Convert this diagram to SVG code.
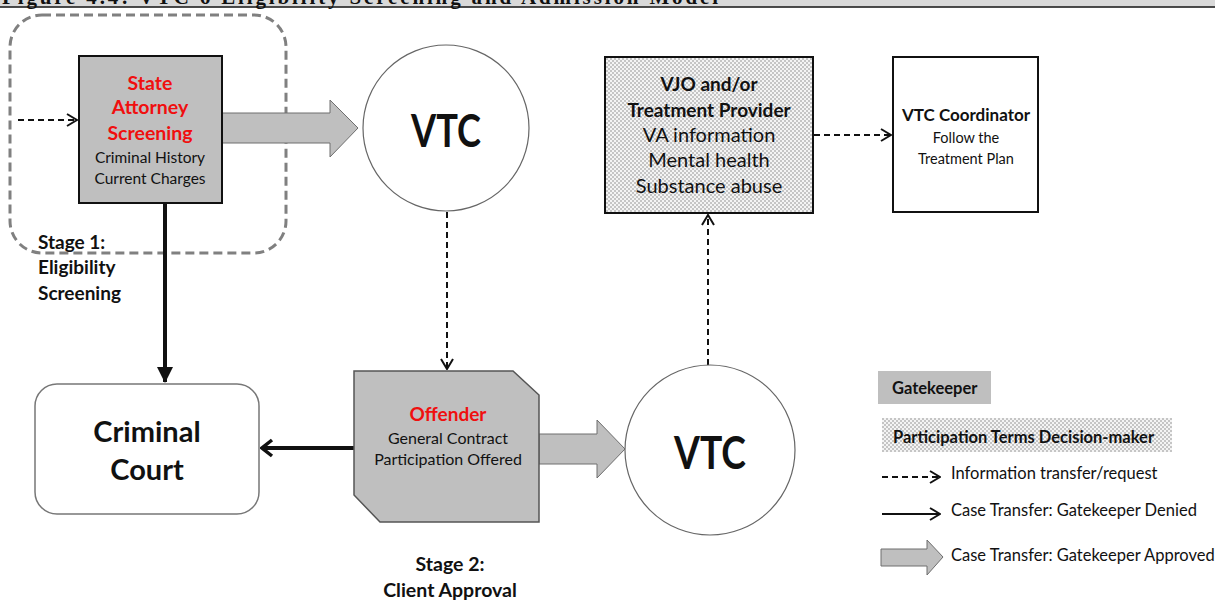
<svg xmlns="http://www.w3.org/2000/svg" width="1215" height="600" viewBox="0 0 1215 600">
  <style>
    .t { font-family: Lato, "Open Sans", sans-serif; text-anchor: middle; dominant-baseline: central; fill: #111; }
    .s { text-anchor: start; }
    .b { font-weight: bold; }
    .red { fill: #f00f0f; }
    .lg { font-family: Lato, "Open Sans", sans-serif; dominant-baseline: central; fill: #111; font-size: 16.5px; }
    .info { fill: none; stroke: #111; stroke-width: 2; stroke-dasharray: 6 4; }
    .gate { fill: #bfbfbf; }
    .block { fill: #bfbfbf; stroke: #6e6e6e; stroke-width: 1; }
  </style>
  <defs>
    <pattern id="dots" width="4" height="4" patternUnits="userSpaceOnUse">
      <rect width="4" height="4" fill="#f4f4f4"/>
      <circle cx="1" cy="1" r="0.8" fill="#8a8a8a"/>
      <circle cx="3" cy="3" r="0.8" fill="#8a8a8a"/>
    </pattern>
    <marker id="open" viewBox="0 0 12 14" refX="11" refY="7" markerWidth="12" markerHeight="14" markerUnits="userSpaceOnUse" orient="auto">
      <path d="M1,1 L11,7 L1,13" fill="none" stroke="#111" stroke-width="2"/>
    </marker>
    <marker id="openBig" viewBox="0 0 14 20" refX="12" refY="10" markerWidth="14" markerHeight="20" markerUnits="userSpaceOnUse" orient="auto">
      <path d="M2,2 L12,10 L2,18" fill="none" stroke="#111" stroke-width="3.5"/>
    </marker>
    <marker id="solid" viewBox="0 0 16 16" refX="15" refY="8" markerWidth="16" markerHeight="16" markerUnits="userSpaceOnUse" orient="auto">
      <path d="M0,0 L16,8 L0,16 Z" fill="#111"/>
    </marker>
  </defs>

  <rect width="1215" height="600" fill="#fff"/>

  <!-- page header -->
  <rect x="0" y="0" width="1215" height="6.5" fill="#d9d9d9"/>
  <line x1="0" y1="7" x2="1215" y2="7" stroke="#111" stroke-width="1.5"/>
  <text x="2" y="4" font-family="Liberation Serif, serif" font-weight="bold" font-size="21" textLength="716" fill="#111">Figure 4.4: VTC 6 Eligibility Screening and Admission Model</text>

  <!-- stage 1 boundary -->
  <g id="stage1">
    <rect x="10" y="15" width="276" height="238" rx="32" fill="none" stroke="#808080" stroke-width="3" stroke-dasharray="9 5"/>
    <text class="t s b" font-size="19" x="38" y="241">Stage 1:</text>
    <text class="t s b" font-size="19" x="38" y="266">Eligibility</text>
    <text class="t s b" font-size="19" x="38" y="292">Screening</text>
  </g>

  <g id="stage2">
    <text class="t b" font-size="19.5" x="450" y="563">Stage 2:</text>
    <text class="t b" font-size="19.5" x="450" y="589">Client Approval</text>
  </g>

  <!-- connectors -->
  <g id="connectors">
    <line class="info" x1="18" y1="120" x2="77" y2="120" marker-end="url(#open)"/>
    <polygon class="block" points="222,113 330,113 330,100 358,128 330,157 330,143 222,143"/>
    <line class="info" x1="447" y1="212" x2="447" y2="369" marker-end="url(#open)"/>
    <line x1="165" y1="203" x2="165" y2="382" stroke="#111" stroke-width="4" marker-end="url(#solid)"/>
    <line x1="354" y1="448" x2="262" y2="448" stroke="#111" stroke-width="4" marker-end="url(#openBig)"/>
    <polygon class="block" points="539,434 597,434 597,420 625,449 597,478 597,464 539,464"/>
    <line class="info" x1="708" y1="365" x2="708" y2="215" marker-end="url(#open)"/>
    <line class="info" x1="814" y1="135" x2="891" y2="135" marker-end="url(#open)"/>
  </g>

  <g id="state-attorney">
    <rect x="79" y="56" width="143" height="147" fill="#bfbfbf" stroke="#111" stroke-width="2"/>
    <text class="t b red" font-size="19.5" x="150" y="82">State</text>
    <text class="t b red" font-size="19.5" x="150" y="106">Attorney</text>
    <text class="t b red" font-size="19.5" x="150" y="132">Screening</text>
    <text class="t" font-size="15.5" x="150" y="157">Criminal History</text>
    <text class="t" font-size="15.5" x="150" y="178">Current Charges</text>
  </g>

  <g id="vtc-top">
    <circle cx="446" cy="128" r="83" fill="#fff" stroke="#666" stroke-width="1.2"/>
    <text class="t b" font-size="45" x="446" y="130" textLength="70" lengthAdjust="spacingAndGlyphs">VTC</text>
  </g>

  <g id="vjo">
    <rect x="605" y="57" width="208" height="156" fill="url(#dots)" stroke="#111" stroke-width="2"/>
    <text class="t b" font-size="19" x="709" y="83">VJO and/or</text>
    <text class="t b" font-size="19" x="709" y="109">Treatment Provider</text>
    <text class="t" font-size="20" x="709" y="134">VA information</text>
    <text class="t" font-size="20" x="709" y="159">Mental health</text>
    <text class="t" font-size="20" x="709" y="185">Substance abuse</text>
  </g>

  <g id="coordinator">
    <rect x="893" y="57" width="145" height="155" fill="#fff" stroke="#111" stroke-width="2"/>
    <text class="t b" font-size="17" x="966" y="114">VTC Coordinator</text>
    <text class="t" font-size="14.5" x="966" y="137">Follow the</text>
    <text class="t" font-size="14.5" x="966" y="158">Treatment Plan</text>
  </g>

  <g id="criminal-court">
    <rect x="35" y="384" width="224" height="130" rx="22" fill="#fff" stroke="#777" stroke-width="1.5"/>
    <text class="t b" font-size="29" x="147" y="430">Criminal</text>
    <text class="t b" font-size="29" x="147" y="468">Court</text>
  </g>

  <g id="offender">
    <polygon points="354,371 513,371 539,395 539,522 380,522 354,495" fill="#bfbfbf" stroke="#555" stroke-width="1.5"/>
    <text class="t b red" font-size="19" x="448" y="413">Offender</text>
    <text class="t" font-size="16" x="448" y="437">General Contract</text>
    <text class="t" font-size="16" x="448" y="458">Participation Offered</text>
  </g>

  <g id="vtc-bottom">
    <circle cx="710" cy="450" r="85" fill="#fff" stroke="#666" stroke-width="1.2"/>
    <text class="t b" font-size="45" x="710" y="452" textLength="72" lengthAdjust="spacingAndGlyphs">VTC</text>
  </g>

  <!-- key -->
  <g id="legend">
    <rect class="gate" x="878" y="371" width="113" height="33"/>
    <text class="lg b red" font-size="16" x="892" y="388">Gatekeeper</text>
    <rect x="882" y="418" width="290" height="34" fill="url(#dots)"/>
    <text class="lg b" font-size="15.4" x="893" y="437">Participation Terms Decision-maker</text>
    <line class="info" x1="882" y1="477" x2="940" y2="477" marker-end="url(#open)"/>
    <text class="lg" x="951" y="473">Information transfer/request</text>
    <line x1="882" y1="514" x2="940" y2="514" stroke="#111" stroke-width="2" marker-end="url(#open)"/>
    <text class="lg" x="951" y="510">Case Transfer: Gatekeeper Denied</text>
    <polygon class="block" points="881,549 927,549 927,540 943,557 927,575 927,566 881,566"/>
    <text class="lg" x="951" y="555">Case Transfer: Gatekeeper Approved</text>
  </g>
</svg>
